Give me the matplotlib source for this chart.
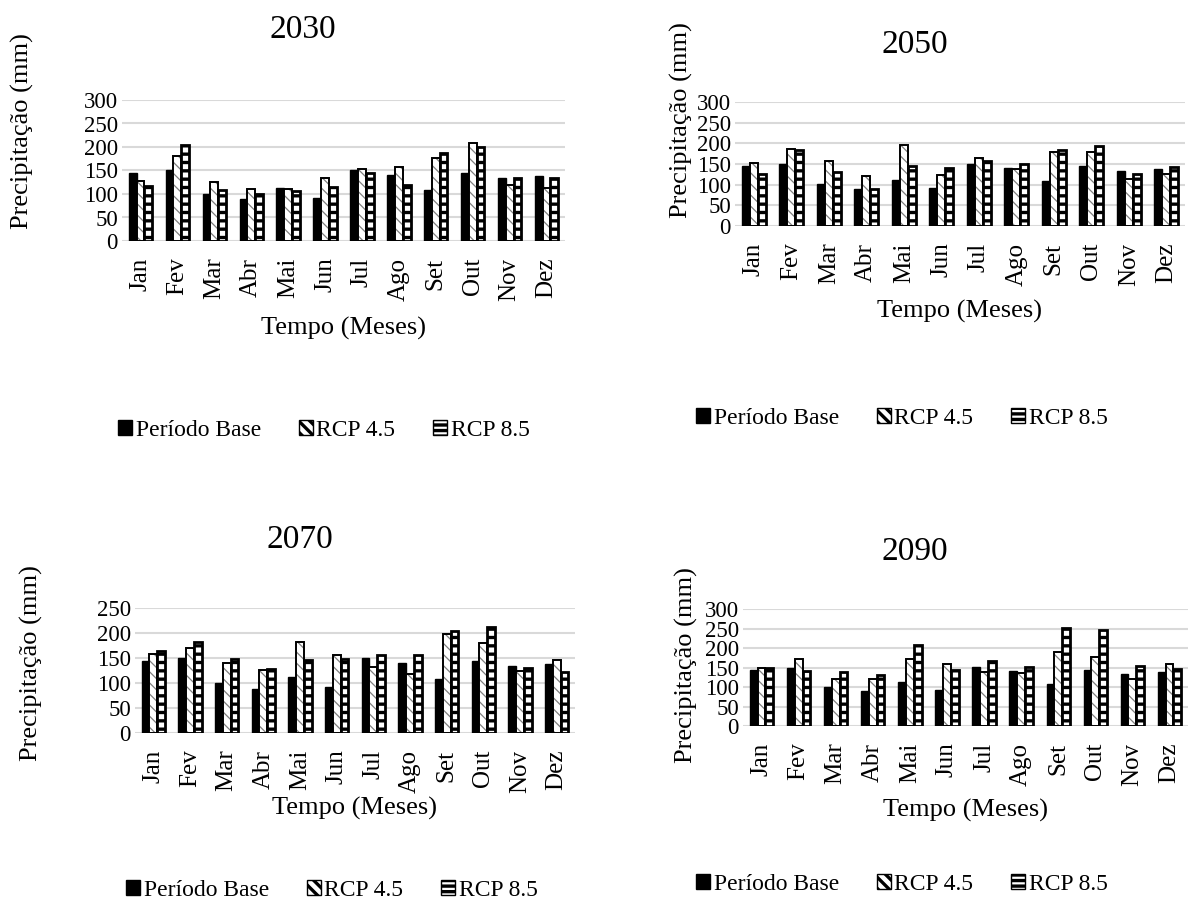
import numpy as np
import matplotlib
matplotlib.use('Agg')
import matplotlib.pyplot as plt
from matplotlib.patches import Patch

plt.rcParams['font.family'] = ['Liberation Serif', 'DejaVu Serif']
plt.rcParams['hatch.linewidth'] = 2.4

# data (mm)
months = ['Jan', 'Fev', 'Mar', 'Abr', 'Mai', 'Jun', 'Jul', 'Ago', 'Set', 'Out', 'Nov', 'Dez']
base = [144, 150, 101, 89, 112, 92, 151, 140, 108, 144, 134, 139]

rcp45_2030 = [128, 180, 126, 110, 111, 135, 153, 157, 176, 209, 120, 112]
rcp85_2030 = [118, 204, 109, 101, 106, 114, 145, 119, 188, 200, 134, 135]
rcp45_2050 = [152, 186, 158, 122, 195, 124, 165, 139, 180, 180, 114, 126]
rcp85_2050 = [127, 185, 131, 90, 144, 140, 158, 149, 185, 194, 126, 143]
rcp45_2070 = [159, 171, 140, 127, 183, 157, 133, 119, 199, 181, 124, 146]
rcp85_2070 = [165, 182, 149, 128, 147, 149, 157, 156, 204, 213, 131, 122]
rcp45_2090 = [150, 171, 121, 121, 172, 158, 139, 135, 191, 178, 121, 160]
rcp85_2090 = [150, 141, 138, 131, 207, 144, 166, 152, 252, 245, 155, 146]

years = ['2030', '2050', '2070', '2090']
rcp45 = [rcp45_2030, rcp45_2050, rcp45_2070, rcp45_2090]
rcp85 = [rcp85_2030, rcp85_2050, rcp85_2070, rcp85_2090]
ymax = [300, 300, 250, 300]

# panel layout (pixels on a 1192x913 canvas)
W, H = 1192, 913
axes_px = [(122, 100, 565, 241), (735, 102, 1185, 226),
           (135, 608, 575, 733), (743, 609, 1188, 726)]
title_xy = [(303, 30), (915, 45), (300, 540), (915, 552)]
ylab_xy = [(22, 131), (681, 120), (31, 663), (686, 665)]
xlab_y = [328, 311, 808, 810]
leg_xy = [(118, 430), (696, 418), (126, 890), (696, 884)]

fig = plt.figure(figsize=(W / 100, H / 100), dpi=100)

x = np.arange(len(months))
w = 0.21

def thin_hatch(p, lw):
    if hasattr(p, 'set_hatch_linewidth'):
        p.set_hatch_linewidth(lw)
    return p

def hatched_bar(ax, xs, vals, hatch, hcolor, hlw, elw):
    bars = ax.bar(xs, vals, w, color='white', edgecolor=hcolor, linewidth=0,
                  hatch=hatch, zorder=3)
    for b in bars:
        thin_hatch(b, hlw)
    ax.bar(xs, vals, w, fill=False, edgecolor='black', linewidth=elw, zorder=4)

for i in range(4):
    l, t, r, btm = axes_px[i]
    ax = fig.add_axes([l / W, 1 - btm / H, (r - l) / W, (btm - t) / H])
    ax.bar(x - w, base, w, color='black', edgecolor='black', linewidth=1, zorder=3)
    hatched_bar(ax, x, rcp45[i], '\\\\\\', '#808080', 0.9, 1.4)
    hatched_bar(ax, x + w, rcp85[i], '--', 'black', 2.4, 2.0)

    ax.set_xlim(-0.5, 11.5)
    ax.set_ylim(0, ymax[i])
    ax.set_yticks(np.arange(0, ymax[i] + 1, 50))
    ax.set_xticks(x)
    ax.set_xticklabels(months, rotation=90, fontsize=18)
    ax.tick_params(axis='y', labelsize=16.5, length=0, pad=3)
    ax.tick_params(axis='x', length=0, pad=12)
    ax.grid(axis='y', color='#d9d9d9', linewidth=1.5, zorder=0)
    for s in ax.spines.values():
        s.set_visible(False)
    ax.set_axisbelow(True)

    fig.text(title_xy[i][0] / W, 1 - title_xy[i][1] / H, years[i],
             fontsize=24, ha='center', va='center')
    fig.text(ylab_xy[i][0] / W, 1 - ylab_xy[i][1] / H, 'Precipitação (mm)',
             fontsize=19, rotation=90, ha='center', va='center')
    fig.text((l + r) / 2 / W, 1 - xlab_y[i] / H, 'Tempo (Meses)',
             fontsize=19, ha='center', va='center')

    handles = [Patch(facecolor='black', edgecolor='black'),
               thin_hatch(Patch(facecolor='white', edgecolor='black', hatch='\\\\\\'), 0.9),
               Patch(facecolor='white', edgecolor='black', hatch='---')]
    fig.legend(handles, ['Período Base', 'RCP 4.5', 'RCP 8.5'],
               loc='center left', bbox_to_anchor=(leg_xy[i][0] / W, 1 - leg_xy[i][1] / H),
               ncol=3, frameon=False, fontsize=17, handlelength=0.6, handleheight=0.6,
               handletextpad=0.15, columnspacing=1.6, borderaxespad=0, borderpad=0)

fig.savefig('out.png', dpi=100)
